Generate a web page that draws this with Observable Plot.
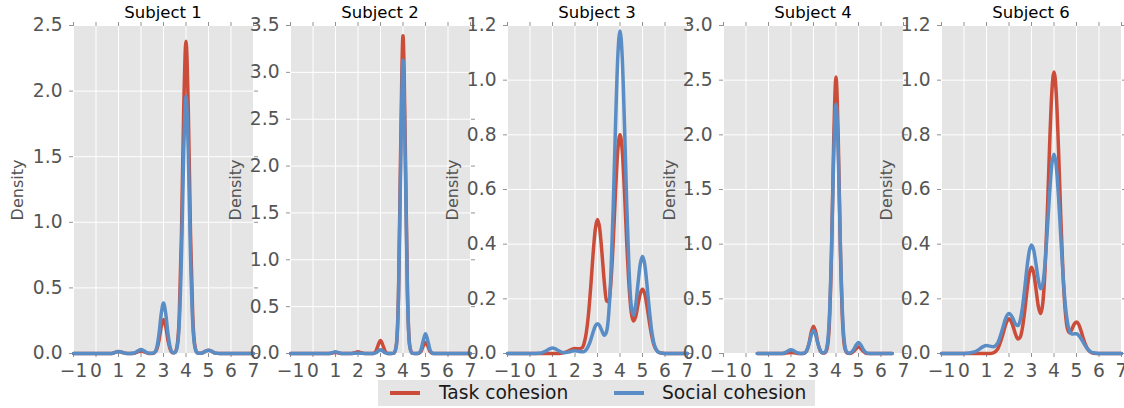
<!DOCTYPE html>
<html>
<head>
<meta charset="utf-8">
<script src="https://cdn.jsdelivr.net/npm/d3@7"></script>
<script src="https://cdn.jsdelivr.net/npm/@observablehq/plot@0.6"></script>
<style>
  html, body { margin: 0; padding: 0; background: #fff; overflow: hidden; }
  #wrap { position: relative; width: 1124px; height: 408px; font-family: "DejaVu Sans", sans-serif; }
  #wrap svg text { font-size: 18.67px !important; font-family: "DejaVu Sans", sans-serif !important; }
  .title { position: absolute; top: 5px; font-size: 16.5px; line-height: 1; color: #000; white-space: nowrap; transform: translateX(-50%); }
  .ylab { position: absolute; font-size: 16px; line-height: 1; color: #555; white-space: nowrap; transform: translate(-50%, -50%) rotate(-90deg); }
  #legend { position: absolute; left: 378px; top: 380px; width: 437px; height: 26px; background: #E5E5E5; }
  #legend .sw { position: absolute; top: 11.3px; width: 30px; height: 3.5px; }
  #legend .lt { position: absolute; top: 0; line-height: 26px; font-size: 18.67px; color: #1a1a1a; white-space: nowrap; }
</style>
</head>
<body>
<div id="wrap"></div>
<script>
// ---- data ----
const subjects = ["Subject 1", "Subject 2", "Subject 3", "Subject 4", "Subject 6"];
const seriesNames = ["Task cohesion", "Social cohesion"];
const xTicks = [-1, 0, 1, 2, 3, 4, 5, 6, 7];
const yTicksS1 = [0, 0.5, 1.0, 1.5, 2.0, 2.5];
const yTicksS2 = [0, 0.5, 1.0, 1.5, 2.0, 2.5, 3.0, 3.5];
const yTicksS3 = [0, 0.2, 0.4, 0.6, 0.8, 1.0, 1.2];
const yTicksS4 = [0, 0.5, 1.0, 1.5, 2.0, 2.5, 3.0];
const yTicksS6 = [0, 0.2, 0.4, 0.6, 0.8, 1.0, 1.2];

// x positions where the density curves were read
const xGrid = [
  -1, 0, 0.5, 0.7, 0.85, 1.0, 1.15, 1.3, 1.5, 1.7,
  1.85, 2.0, 2.15, 2.3, 2.4, 2.5, 2.6, 2.7, 2.8, 2.9,
  3.0, 3.1, 3.2, 3.3, 3.4, 3.5, 3.6, 3.7, 3.8, 3.9,
  4.0, 4.1, 4.2, 4.3, 4.4, 4.5, 4.6, 4.7, 4.8, 4.9,
  5.0, 5.1, 5.2, 5.3, 5.4, 5.5, 5.6, 5.75, 6.0, 6.5, 7
];

const taskS1 = [
  0, 0, 0, 0, 0.009, 0.015, 0.009, 0.002, 0, 0.002,
  0.012, 0.02, 0.012, 0.002, 0, 0, 0.006, 0.031, 0.100, 0.205,
  0.26, 0.205, 0.100, 0.031, 0.006, 0.007, 0.053, 0.281, 0.919, 1.875,
  2.38, 1.875, 0.919, 0.281, 0.053, 0.006, 0.001, 0.003, 0.010, 0.020,
  0.025, 0.020, 0.010, 0.003, 0.001, 0, 0, 0, 0, 0, 0
];
const socialS1 = [
  0, 0, 0, 0, 0.009, 0.015, 0.009, 0.002, 0, 0.004,
  0.018, 0.03, 0.018, 0.004, 0.001, 0.001, 0.008, 0.045, 0.149, 0.303,
  0.385, 0.303, 0.149, 0.045, 0.008, 0.006, 0.043, 0.231, 0.757, 1.544,
  1.96, 1.544, 0.757, 0.231, 0.043, 0.005, 0.001, 0.003, 0.010, 0.020,
  0.025, 0.020, 0.010, 0.003, 0.001, 0, 0, 0, 0, 0, 0
];
const taskS2 = [
  0, 0, 0, 0, 0.004, 0.01, 0.004, 0, 0, 0,
  0.008, 0.02, 0.008, 0.001, 0, 0, 0, 0.003, 0.027, 0.092,
  0.139, 0.092, 0.027, 0.003, 0, 0, 0.004, 0.082, 0.647, 2.241,
  3.39, 2.241, 0.647, 0.082, 0.004, 0, 0, 0.003, 0.023, 0.079,
  0.12, 0.079, 0.023, 0.003, 0, 0, 0, 0, 0, 0, 0
];
const socialS2 = [
  0, 0, 0, 0, 0.008, 0.02, 0.008, 0, 0, 0,
  0.002, 0.005, 0.002, 0, 0, 0, 0, 0.001, 0.008, 0.026,
  0.04, 0.026, 0.008, 0.001, 0, 0, 0.004, 0.076, 0.598, 2.069,
  3.13, 2.069, 0.598, 0.076, 0.004, 0, 0, 0.005, 0.040, 0.139,
  0.21, 0.139, 0.040, 0.005, 0, 0, 0, 0, 0, 0, 0
];
const taskS3 = [
  0, 0, 0, 0, 0, 0, 0, 0, 0.003, 0.009,
  0.015, 0.018, 0.017, 0.020, 0.036, 0.075, 0.144, 0.245, 0.360, 0.454,
  0.49, 0.456, 0.366, 0.263, 0.193, 0.189, 0.265, 0.411, 0.592, 0.742,
  0.80, 0.741, 0.590, 0.405, 0.249, 0.151, 0.119, 0.136, 0.179, 0.219,
  0.235, 0.218, 0.173, 0.118, 0.069, 0.034, 0.015, 0.003, 0, 0, 0
];
const socialS3 = [
  0, 0, 0.002, 0.009, 0.016, 0.020, 0.016, 0.009, 0.003, 0.005,
  0.008, 0.010, 0.008, 0.006, 0.007, 0.014, 0.028, 0.050, 0.077, 0.100,
  0.109, 0.101, 0.082, 0.067, 0.079, 0.147, 0.299, 0.542, 0.834, 1.082,
  1.18, 1.082, 0.835, 0.545, 0.310, 0.175, 0.140, 0.179, 0.256, 0.327,
  0.355, 0.326, 0.251, 0.163, 0.088, 0.040, 0.016, 0.003, 0, 0, 0
];
const taskS4 = [
  null, null, 0, 0, 0, 0, 0, 0, 0, 0.001,
  0.006, 0.01, 0.006, 0.001, 0, 0, 0.004, 0.025, 0.090, 0.194,
  0.25, 0.194, 0.090, 0.025, 0.004, 0.005, 0.043, 0.255, 0.911, 1.961,
  2.53, 1.961, 0.911, 0.255, 0.043, 0.004, 0.001, 0.006, 0.022, 0.047,
  0.06, 0.047, 0.022, 0.006, 0.001, 0, 0, 0, 0, 0, null
];
const socialS4 = [
  null, null, 0, 0, 0, 0, 0, 0, 0, 0.005,
  0.021, 0.035, 0.021, 0.005, 0.001, 0.001, 0.006, 0.028, 0.086, 0.168,
  0.21, 0.168, 0.086, 0.028, 0.006, 0.010, 0.065, 0.308, 0.937, 1.826,
  2.28, 1.826, 0.937, 0.308, 0.065, 0.009, 0.003, 0.0135, 0.041, 0.080,
  0.10, 0.080, 0.041, 0.0135, 0.003, 0, 0, 0, 0, 0, null
];
const taskS6 = [
  0, 0, 0, 0, 0, 0, 0, 0.0025, 0.017, 0.062,
  0.106, 0.127, 0.107, 0.068, 0.053, 0.060, 0.095, 0.156, 0.230, 0.292,
  0.316, 0.293, 0.235, 0.174, 0.146, 0.182, 0.304, 0.508, 0.750, 0.951,
  1.03, 0.951, 0.749, 0.504, 0.292, 0.155, 0.090, 0.076, 0.090, 0.108,
  0.115, 0.106, 0.0835, 0.056, 0.032, 0.0155, 0.0064, 0.0013, 0, 0, 0
];
const socialS6 = [
  0, 0, 0.0066, 0.017, 0.025, 0.029, 0.027, 0.025, 0.039, 0.087,
  0.128, 0.146, 0.132, 0.106, 0.102, 0.122, 0.170, 0.239, 0.315, 0.374,
  0.397, 0.378, 0.327, 0.271, 0.237, 0.254, 0.328, 0.448, 0.582, 0.689,
  0.729, 0.687, 0.575, 0.430, 0.289, 0.180, 0.113, 0.080, 0.071, 0.072,
  0.072, 0.066, 0.055, 0.041, 0.027, 0.016, 0.008, 0.0025, 0, 0, 0
];

const taskSeries = [taskS1, taskS2, taskS3, taskS4, taskS6];
const socialSeries = [socialS1, socialS2, socialS3, socialS4, socialS6];
const yTickSets = [yTicksS1, yTicksS2, yTicksS3, yTicksS4, yTicksS6];

// ---- layout / style ----
const RED = "#CC4C3A", BLUE = "#5A8DC5";
const frameLefts = [73, 290, 507, 723, 941];
const ylabCenters = [18, 235.5, 452.5, 669.5, 886.5];
const FW = 180, MT = 25, FH = 328, MB = 30, ML = 70, MR = 3;
const wrap = document.getElementById("wrap");
const fmtX = d => (d < 0 ? "\u2212" + Math.abs(d) : String(d));
const fmtY = d3.format(".1f");
const TICK = "#777";

subjects.forEach((name, i) => {
  const yt = yTickSets[i];
  const rows = s => xGrid.map((x, j) => ({x, y: s[j]}));
  const plot = Plot.plot({
    width: ML + FW + MR,
    height: MT + FH + MB,
    marginLeft: ML, marginRight: MR, marginTop: MT, marginBottom: MB,
    style: {background: "transparent", overflow: "visible", fontFamily: "DejaVu Sans", fontSize: "18.67px", color: "#555"},
    x: {domain: [-1, 7]},
    y: {domain: [0, yt[yt.length - 1]]},
    marks: [
      Plot.frame({fill: "#E5E5E5", stroke: "none"}),
      Plot.gridX(xTicks, {stroke: "#fff", strokeOpacity: 1, strokeWidth: 1}),
      Plot.gridY(yt, {stroke: "#fff", strokeOpacity: 1, strokeWidth: 1}),
      Plot.axisX(xTicks, {anchor: "bottom", tickSize: 4, tickPadding: 6, tickFormat: fmtX, label: null, stroke: TICK, fill: "#555", strokeWidth: 0.8}),
      Plot.axisX(xTicks, {anchor: "top", tickSize: 4, tickFormat: () => "", label: null, stroke: TICK, strokeWidth: 0.8}),
      Plot.axisY(yt, {anchor: "left", tickSize: 4, tickPadding: 7, tickFormat: fmtY, label: null, stroke: TICK, fill: "#555", strokeWidth: 0.8}),
      Plot.axisY(yt, {anchor: "right", tickSize: 4, tickFormat: () => "", label: null, stroke: TICK, strokeWidth: 0.8}),
      Plot.line(rows(taskSeries[i]), {x: "x", y: "y", stroke: RED, strokeWidth: 3.5, curve: "monotone-x", strokeLinejoin: "round"}),
      Plot.line(rows(socialSeries[i]), {x: "x", y: "y", stroke: BLUE, strokeWidth: 3.5, curve: "monotone-x", strokeLinejoin: "round"})
    ]
  });
  plot.style.position = "absolute";
  plot.style.left = (frameLefts[i] - ML) + "px";
  plot.style.top = "0px";
  wrap.appendChild(plot);

  const t = document.createElement("div");
  t.className = "title";
  t.textContent = name;
  t.style.left = (frameLefts[i] + FW / 2) + "px";
  wrap.appendChild(t);

  const yl = document.createElement("div");
  yl.className = "ylab";
  yl.textContent = "Density";
  yl.style.left = ylabCenters[i] + "px";
  yl.style.top = (MT + FH / 2 + 1) + "px";
  wrap.appendChild(yl);
});

// legend
const lg = document.createElement("div");
lg.id = "legend";
const colors = [RED, BLUE];
const swLeft = [12, 236], txtLeft = [61, 284];
seriesNames.forEach((n, k) => {
  const sw = document.createElement("div");
  sw.className = "sw";
  sw.style.left = swLeft[k] + "px";
  sw.style.background = colors[k];
  lg.appendChild(sw);
  const tx = document.createElement("div");
  tx.className = "lt";
  tx.style.left = txtLeft[k] + "px";
  tx.textContent = n;
  lg.appendChild(tx);
});
wrap.appendChild(lg);
</script>
</body>
</html>
